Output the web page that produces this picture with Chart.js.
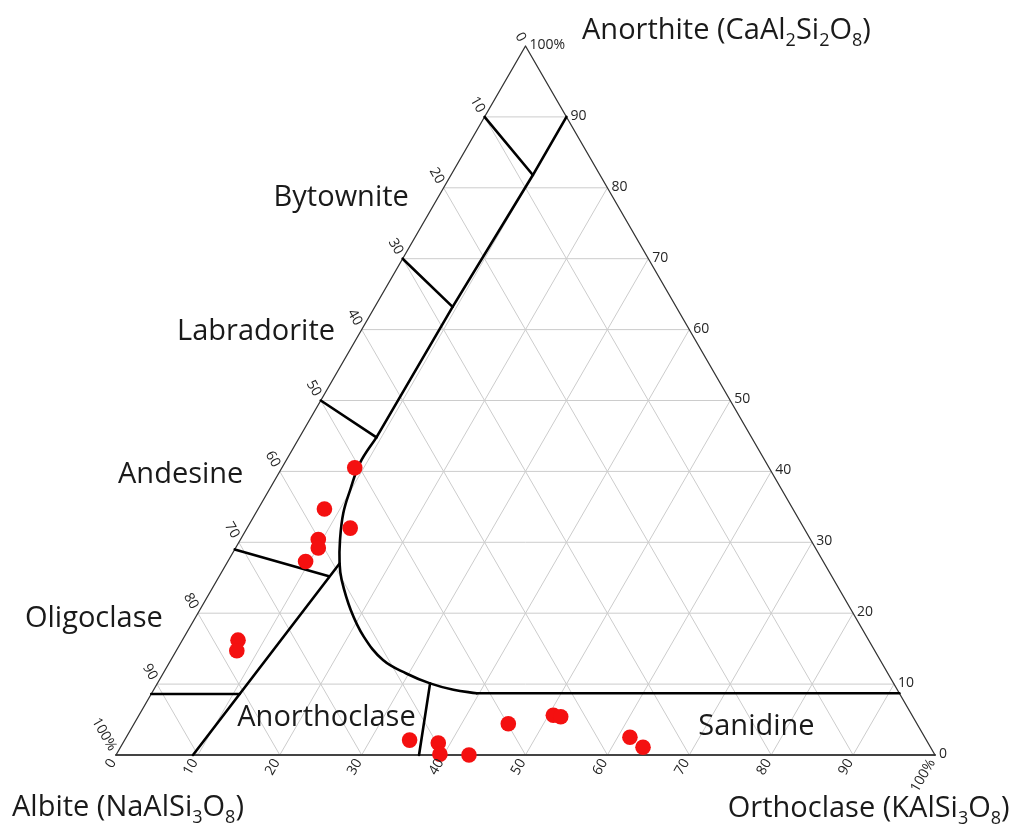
<!DOCTYPE html>
<html>
<head>
<meta charset="utf-8">
<title>Feldspar ternary diagram</title>
<script src="https://cdn.jsdelivr.net/npm/chart.js@4.4.1/dist/chart.umd.min.js"></script>
<style>
  html, body { margin: 0; padding: 0; background: #fff; }
  canvas { display: block; }
</style>
</head>
<body>
<canvas id="feldspar" width="1010" height="824"></canvas>
<script>
// Feldspar ternary: Albite (Ab) – Orthoclase (Or) – Anorthite (An).
// Every composition is written as an Or % / An % pair; Ab % is the remainder.

const gridSteps = [10, 20, 30, 40, 50, 60, 70, 80, 90];
const tickValues = [0, 10, 20, 30, 40, 50, 60, 70, 80, 90, 100];

// analysed feldspars
const sampleOr = [8.9, 8.1, 12.6, 9.5, 10.1, 9.5, 6.8, 7.4, 34.8, 38.5, 39.5, 43.1, 45.7, 50.6, 51.6, 61.5, 63.8];
const sampleAn = [40.5, 34.7, 32.0, 30.4, 29.2, 27.3, 16.2, 14.7, 2.1, 1.7, 0.1, 0.0, 4.4, 5.6, 5.4, 2.5, 1.1];

// plagioclase / alkali-feldspar limit: straight upper part, curved lower part
const limitLineOr = [10.0, 10.0, 9.5, 9.4];
const limitLineAn = [90.0, 81.8, 63.2, 44.8];
const limitCurveOr = [9.4, 9.2, 9.9, 10.7, 12.2, 13.8, 15.2, 18.4, 21.9, 25.9, 29.7, 33.3, 36.6, 39.7];
const limitCurveAn = [44.8, 41.2, 37.4, 34.1, 30.3, 27.0, 24.7, 20.5, 16.7, 13.4, 11.5, 10.1, 9.2, 8.7];
const sanidineTopOr = [39.7, 91.3];
const sanidineTopAn = [8.7, 8.7];

// plagioclase field dividers, from the Ab–An side to the limit
const anorthiteBytowniteOr = [0, 10.0];
const anorthiteBytowniteAn = [90, 81.8];
const bytowniteLabradoriteOr = [0, 9.5];
const bytowniteLabradoriteAn = [70, 63.2];
const labradoriteAndesineOr = [0, 9.4];
const labradoriteAndesineAn = [50, 44.8];
const andesineOligoclaseOr = [0, 13.4];
const andesineOligoclaseAn = [29, 25.2];
const oligoclaseAlbiteOr = [0, 10.8];
const oligoclaseAlbiteAn = [8.6, 8.6];

// alkali-feldspar field dividers
const plagAnorthoclaseOr = [9.4, 13.8];
const plagAnorthoclaseAn = [0, 27.0];
const anorthoclaseSanidineOr = [37.0, 33.3];
const anorthoclaseSanidineAn = [0, 10.1];

// ternary (Or, An) -> plot coordinates (position along the base, An height)
function tern(or, an) { return { x: or + an / 2, y: an }; }
function path(orList, anList) { return orList.map((o, i) => tern(o, anList[i])); }

const FONT = '"Open Sans", "Noto Sans", sans-serif';

const datasets = [];

// samples on top of everything
datasets.push({
  data: path(sampleOr, sampleAn),
  showLine: false,
  pointRadius: 7.8,
  pointHoverRadius: 7.8,
  pointBackgroundColor: '#f41010',
  pointBorderWidth: 0,
  clip: false,
  order: 0
});

function lineSet(points, color, width, order, tension) {
  return {
    data: points,
    showLine: true,
    pointRadius: 0,
    pointHoverRadius: 0,
    borderColor: color,
    borderWidth: width,
    tension: tension || 0,
    fill: false,
    clip: false,
    order: order,
    borderCapStyle: 'round',
    borderJoinStyle: 'round'
  };
}

// field boundaries
const BOUND = '#000000';
const BW = 2.6;
datasets.push(lineSet(path(limitLineOr, limitLineAn), BOUND, BW, 1));
datasets.push(lineSet(path(limitCurveOr, limitCurveAn), BOUND, BW, 1, 0.4));
datasets.push(lineSet(path(sanidineTopOr, sanidineTopAn), BOUND, BW, 1));
[
  [anorthiteBytowniteOr, anorthiteBytowniteAn],
  [bytowniteLabradoriteOr, bytowniteLabradoriteAn],
  [labradoriteAndesineOr, labradoriteAndesineAn],
  [andesineOligoclaseOr, andesineOligoclaseAn],
  [oligoclaseAlbiteOr, oligoclaseAlbiteAn],
  [plagAnorthoclaseOr, plagAnorthoclaseAn],
  [anorthoclaseSanidineOr, anorthoclaseSanidineAn]
].forEach(([o, a]) => datasets.push(lineSet(path(o, a), BOUND, BW, 1)));

// triangle sides
datasets.push(lineSet([tern(0, 0), tern(0, 100), tern(100, 0)], '#333333', 1.3, 2));
datasets.push(lineSet([tern(0, 0), tern(100, 0)], '#444444', 2, 2));

// 10 % grid in the three directions
gridSteps.forEach(v => {
  datasets.push(lineSet([tern(0, v), tern(100 - v, v)], '#cccccc', 1, 3));   // constant An
  datasets.push(lineSet([tern(v, 0), tern(v, 100 - v)], '#cccccc', 1, 3));   // constant Or
  datasets.push(lineSet([tern(100 - v, 0), tern(0, 100 - v)], '#cccccc', 1, 3)); // constant Ab
});

// mineral names: centre x / baseline in plot units
const fieldNames = [
  { text: 'Bytownite',    x: 27.5, y: 77.4 },
  { text: 'Labradorite',  x: 17.1, y: 58.5 },
  { text: 'Andesine',     x: 7.9,  y: 38.4 },
  { text: 'Oligoclase',   x: -2.7, y: 18.1 },
  { text: 'Anorthoclase', x: 25.7, y: 4.1 },
  { text: 'Sanidine',     x: 78.2, y: 2.8 }
];

// end-member names with formula subscripts: left edge / baseline in plot units
const endMembers = [
  { x: 56.9, y: 101.0, parts: [['Anorthite (CaAl', 0], ['2', 1], ['Si', 0], ['2', 1], ['O', 0], ['8', 1], [')', 0]] },
  { x: -12.7, y: -8.6, parts: [['Albite (NaAlSi', 0], ['3', 1], ['O', 0], ['8', 1], [')', 0]] },
  { x: 74.7, y: -8.7, parts: [['Orthoclase (KAlSi', 0], ['3', 1], ['O', 0], ['8', 1], [')', 0]] }
];

const ternaryText = {
  id: 'ternaryText',
  afterDraw(chart) {
    const ctx = chart.ctx;
    const sx = chart.scales.x, sy = chart.scales.y;
    const P = (or, an) => ({ x: sx.getPixelForValue(or + an / 2), y: sy.getPixelForValue(an) });
    const tickLabel = v => (v === 100 ? '100%' : String(v));
    const gap = 6;
    const c60 = 0.5, s60 = Math.sqrt(3) / 2;

    ctx.save();
    ctx.fillStyle = '#262626';
    ctx.font = '14px ' + FONT;
    ctx.textBaseline = 'middle';

    tickValues.forEach(v => {
      // Ab % along the left side, written along the constant-Ab grid lines
      let p = P(0, 100 - v);
      ctx.save();
      ctx.translate(p.x - gap * c60, p.y - gap * s60);
      ctx.rotate(Math.PI / 3);
      ctx.textAlign = 'right';
      ctx.fillText(tickLabel(v), 0, 0);
      ctx.restore();

      // Or % along the base, written along the constant-Or grid lines
      p = P(v, 0);
      ctx.save();
      ctx.translate(p.x - gap * c60, p.y + gap * s60);
      ctx.rotate(-Math.PI / 3);
      ctx.textAlign = 'right';
      ctx.fillText(tickLabel(v), 0, 0);
      ctx.restore();

      // An % along the right side, horizontal like the constant-An lines
      p = P(100 - v, v);
      ctx.textAlign = 'left';
      ctx.fillText(tickLabel(v), p.x + 4, p.y - 1);
    });
    ctx.restore();

    ctx.save();
    ctx.fillStyle = '#1a1a1a';
    ctx.textBaseline = 'alphabetic';
    ctx.textAlign = 'center';
    ctx.font = '29px ' + FONT;
    fieldNames.forEach(f => {
      ctx.fillText(f.text, sx.getPixelForValue(f.x), sy.getPixelForValue(f.y));
    });

    ctx.textAlign = 'left';
    const size = 29;
    endMembers.forEach(m => {
      let cx = sx.getPixelForValue(m.x);
      const by = sy.getPixelForValue(m.y);
      m.parts.forEach(([txt, sub]) => {
        ctx.font = (sub ? Math.round(size * 0.62) : size) + 'px ' + FONT;
        ctx.fillText(txt, cx, sub ? by + size * 0.24 : by);
        cx += ctx.measureText(txt).width;
      });
    });
    ctx.restore();
  }
};

new Chart(document.getElementById('feldspar'), {
  type: 'scatter',
  data: { datasets },
  options: {
    responsive: false,
    animation: false,
    events: [],
    layout: { padding: { left: 116, right: 75, top: 46, bottom: 69 } },
    scales: {
      x: { type: 'linear', min: 0, max: 100, display: false },
      y: { type: 'linear', min: 0, max: 100, display: false }
    },
    plugins: { legend: { display: false }, tooltip: { enabled: false } }
  },
  plugins: [ternaryText]
});
</script>
</body>
</html>
